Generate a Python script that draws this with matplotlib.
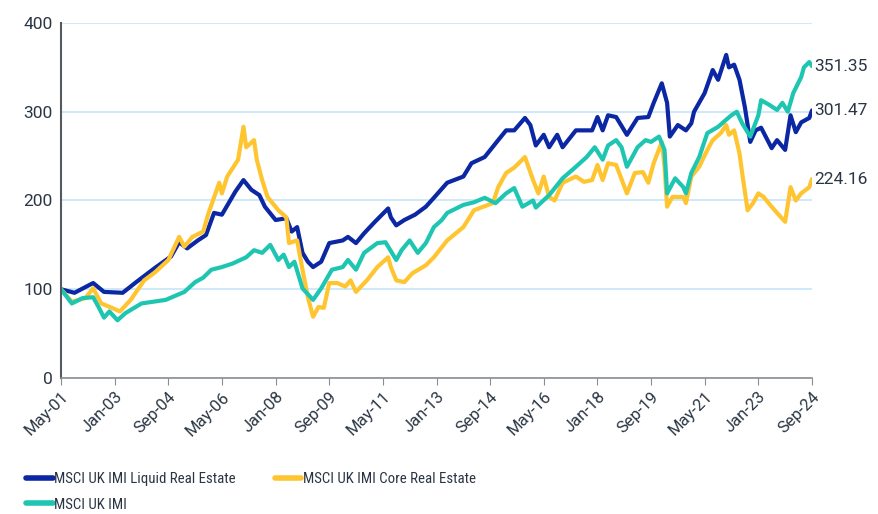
import pandas as pd
import matplotlib.pyplot as plt
import matplotlib.dates as mdates

plt.rcParams['font.family'] = ['Roboto', 'DejaVu Sans']

liquid_dates = ["2001-05", "2001-10", "2002-05", "2002-09", "2003-04", "2003-09", "2004-04", "2004-10",
                "2005-01", "2005-04", "2005-08", "2005-11", "2006-02", "2006-05", "2006-10", "2007-01",
                "2007-04", "2007-07", "2007-09", "2008-01", "2008-05", "2008-07", "2008-09", "2008-11",
                "2009-01", "2009-03", "2009-06", "2009-09", "2010-02", "2010-04", "2010-07", "2010-10",
                "2011-02", "2011-07", "2011-08", "2011-10", "2012-01", "2012-05", "2012-09", "2012-12",
                "2013-05", "2013-11", "2014-02", "2014-07", "2014-12", "2015-03", "2015-06", "2015-10",
                "2015-12", "2016-02", "2016-05", "2016-07", "2016-10", "2016-12", "2017-05", "2017-08",
                "2017-11", "2018-01", "2018-03", "2018-05", "2018-08", "2018-12", "2019-04", "2019-08",
                "2019-10", "2020-01", "2020-03", "2020-04", "2020-07", "2020-10", "2020-12", "2021-01",
                "2021-05", "2021-08", "2021-10", "2022-01", "2022-02", "2022-04", "2022-06", "2022-08",
                "2022-10", "2022-12", "2023-02", "2023-06", "2023-08", "2023-11", "2024-01", "2024-03",
                "2024-05", "2024-08", "2024-09"]
liquid = [100, 96, 107, 97, 96, 108, 124, 137,
          153, 146, 155, 161, 186, 184, 210, 223,
          212, 206, 193, 178, 180, 165, 170, 141,
          131, 125, 131, 152, 155, 159, 152, 163,
          176, 191, 181, 172, 178, 184, 193, 203,
          220, 227, 242, 249, 268, 279, 279, 293,
          285, 262, 274, 260, 274, 260, 279, 279,
          279, 294, 279, 296, 294, 274, 293, 294,
          310, 332, 310, 272, 285, 279, 287, 300,
          321, 347, 336, 364, 350, 353, 336, 305,
          266, 279, 282, 259, 268, 257, 296, 277,
          288, 293, 301.47]

core_dates = ["2001-05", "2001-09", "2002-02", "2002-05", "2002-08", "2002-12", "2003-03", "2003-07",
              "2003-12", "2004-04", "2004-09", "2005-01", "2005-03", "2005-06", "2005-10", "2005-12",
              "2006-04", "2006-05", "2006-07", "2006-11", "2007-01", "2007-02", "2007-05", "2007-06",
              "2007-08", "2007-10", "2008-02", "2008-05", "2008-06", "2008-09", "2008-11", "2009-01",
              "2009-03", "2009-05", "2009-07", "2009-09", "2009-12", "2010-03", "2010-05", "2010-07",
              "2010-11", "2011-03", "2011-07", "2011-08", "2011-10", "2012-01", "2012-04", "2012-09",
              "2012-12", "2013-05", "2013-11", "2014-03", "2014-10", "2014-12", "2015-03", "2015-06",
              "2015-10", "2016-01", "2016-03", "2016-05", "2016-07", "2016-09", "2016-12", "2017-05",
              "2017-08", "2017-11", "2018-01", "2018-03", "2018-05", "2018-08", "2018-12", "2019-03",
              "2019-06", "2019-08", "2019-10", "2020-01", "2020-02", "2020-03", "2020-05", "2020-09",
              "2020-10", "2020-12", "2021-03", "2021-06", "2021-08", "2021-11", "2022-01", "2022-02",
              "2022-04", "2022-06", "2022-07", "2022-09", "2022-11", "2023-01", "2023-03", "2023-06",
              "2023-08", "2023-11", "2024-01", "2024-03", "2024-05", "2024-08", "2024-09"]
core = [100, 86, 90, 101, 84, 79, 75, 88,
        110, 119, 133, 159, 148, 159, 165, 186,
        220, 208, 227, 246, 283, 260, 268, 246,
        223, 204, 189, 181, 152, 155, 122, 91,
        69, 80, 79, 107, 107, 103, 110, 97,
        110, 125, 136, 125, 110, 108, 118, 127,
        136, 155, 170, 189, 197, 215, 231, 237,
        249, 223, 208, 227, 204, 200, 220, 227,
        221, 223, 240, 223, 242, 240, 208, 231,
        232, 220, 242, 266, 238, 193, 204, 204,
        197, 227, 238, 257, 268, 276, 285, 274,
        279, 253, 231, 189, 197, 208, 204, 193,
        186, 176, 215, 200, 208, 215, 224.16]

imi_dates = ["2001-05", "2001-09", "2002-01", "2002-05", "2002-07", "2002-09", "2002-11", "2003-02",
             "2003-05", "2003-11", "2004-08", "2005-03", "2005-07", "2005-10", "2006-01", "2006-05",
             "2006-09", "2007-02", "2007-05", "2007-08", "2007-11", "2008-02", "2008-04", "2008-06",
             "2008-08", "2008-11", "2009-03", "2009-06", "2009-10", "2010-02", "2010-04", "2010-07",
             "2010-10", "2011-03", "2011-06", "2011-10", "2011-12", "2012-03", "2012-06", "2012-09",
             "2012-12", "2013-03", "2013-05", "2013-11", "2014-03", "2014-07", "2014-11", "2015-03",
             "2015-06", "2015-09", "2016-01", "2016-02", "2016-07", "2016-12", "2017-05", "2017-09",
             "2017-12", "2018-03", "2018-05", "2018-08", "2018-10", "2018-12", "2019-04", "2019-07",
             "2019-09", "2019-12", "2020-02", "2020-03", "2020-06", "2020-09", "2020-10", "2020-12",
             "2021-03", "2021-06", "2021-10", "2022-01", "2022-03", "2022-05", "2022-07", "2022-10",
             "2023-01", "2023-02", "2023-05", "2023-08", "2023-10", "2023-12", "2024-02", "2024-05",
             "2024-06", "2024-08", "2024-09"]
imi = [100, 84, 90, 91, 80, 68, 75, 65,
       73, 84, 88, 97, 108, 113, 122, 125,
       129, 136, 144, 141, 150, 133, 139, 125,
       131, 101, 88, 101, 122, 125, 133, 122,
       141, 152, 153, 133, 144, 155, 141, 152,
       170, 178, 186, 195, 198, 203, 197, 208,
       214, 193, 200, 192, 206, 225, 238, 249,
       260, 246, 262, 268, 260, 238, 260, 268,
       266, 272, 257, 208, 225, 215, 208, 231,
       249, 276, 283, 291, 296, 300, 287, 272,
       296, 313, 308, 302, 310, 300, 321, 339,
       350, 356, 351.35]

labels = ["MSCI UK IMI Liquid Real Estate", "MSCI UK IMI Core Real Estate", "MSCI UK IMI"]
colors = ["#0b27a3", "#ffc531", "#1ec6b2"]

fig = plt.figure(figsize=(8.79, 5.14), dpi=100)
ax = fig.add_axes([0.0694, 0.2646, 0.8544, 0.6907])

series = [(liquid_dates, liquid), (core_dates, core), (imi_dates, imi)]
handles = []
for (d, v), lab, c in zip(series, labels, colors):
    h, = ax.plot(pd.to_datetime(d), v, color=c, lw=3.0, label=lab,
                 solid_joinstyle='round', solid_capstyle='round')
    handles.append(h)
    ax.text(pd.Timestamp("2024-10-01"), v[-1], f"{v[-1]:.2f}", va='center', ha='left',
            fontsize=12.5, color='#2b3644')

ax.set_ylim(0, 400)
ax.set_yticks([0, 100, 200, 300, 400])
ax.set_xlim(pd.Timestamp("2001-05-01"), pd.Timestamp("2024-09-01"))
ticks = pd.date_range("2001-05-01", periods=15, freq="20MS")
ax.set_xticks(ticks)
ax.xaxis.set_major_formatter(mdates.DateFormatter("%b-%y"))
plt.setp(ax.get_xticklabels(), rotation=45, ha='right', rotation_mode='anchor')

ax.grid(axis='y', color='#c5e6fa', lw=1.2)
ax.set_axisbelow(True)
for s in ['top', 'right']:
    ax.spines[s].set_visible(False)
ax.spines['left'].set_color('#555a60')
ax.spines['left'].set_linewidth(1.5)
ax.spines['bottom'].set_color('#8a8e92')
ax.spines['bottom'].set_linewidth(1.2)
ax.tick_params(axis='y', length=0, labelsize=12.5, labelcolor='#2b3644', pad=6)
ax.tick_params(axis='x', length=5, color='#8a8e92', labelsize=12, labelcolor='#2b3644', pad=3)

leg = fig.legend([handles[0], handles[2], handles[1]], [labels[0], labels[2], labels[1]],
                 ncol=2, frameon=False, loc='upper left', bbox_to_anchor=(0.0296, 0.0815),
                 borderpad=0, borderaxespad=0,
                 prop={'family': ['Roboto Condensed', 'DejaVu Sans'], 'size': 10.7},
                 handlelength=1.8, handletextpad=0.1, columnspacing=2.6,
                 labelspacing=0.78, labelcolor='#2b3644')
for lh in leg.get_lines():
    lh.set_linewidth(4)

plt.savefig("out.png", dpi=100)
